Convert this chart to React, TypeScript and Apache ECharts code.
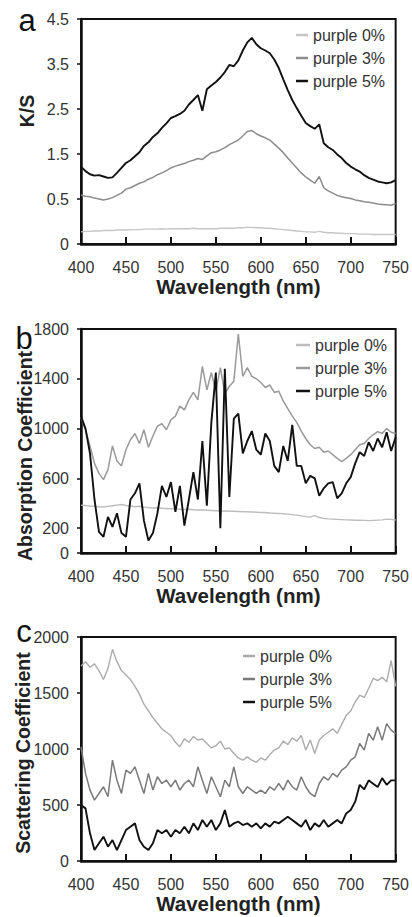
import React, { useEffect, useRef } from "react";
import * as echarts from "echarts";

const wavelengths = [
  400, 405, 410, 415, 420, 425, 430, 435, 440, 445,
  450, 455, 460, 465, 470, 475, 480, 485, 490, 495,
  500, 505, 510, 515, 520, 525, 530, 535, 540, 545,
  550, 555, 560, 565, 570, 575, 580, 585, 590, 595,
  600, 605, 610, 615, 620, 625, 630, 635, 640, 645,
  650, 655, 660, 665, 670, 675, 680, 685, 690, 695,
  700, 705, 710, 715, 720, 725, 730, 735, 740, 745,
  750,
];

const seriesNames = ["purple 0%", "purple 3%", "purple 5%"];

// Panel a (K/S) – values in axis units; tick labels below are the printed ones
const ksTickLabels = ["0", "0.5", "1.5", "2.5", "3.5", "4.5"];
const ks0 = [
  0.27, 0.28, 0.28, 0.29, 0.29, 0.3, 0.3, 0.3, 0.31, 0.31,
  0.31, 0.32, 0.32, 0.32, 0.33, 0.33, 0.33, 0.33, 0.34, 0.33,
  0.34, 0.34, 0.34, 0.34, 0.34, 0.35, 0.34, 0.34, 0.34, 0.34,
  0.34, 0.35, 0.35, 0.35, 0.35, 0.36, 0.36, 0.37, 0.37, 0.36,
  0.36, 0.35, 0.35, 0.34, 0.33, 0.32, 0.31, 0.3, 0.29, 0.28,
  0.27, 0.27, 0.26, 0.28, 0.26, 0.25, 0.25, 0.24, 0.24, 0.23,
  0.23, 0.23, 0.22, 0.22, 0.22, 0.21, 0.21, 0.21, 0.21, 0.21,
  0.21,
];
const ks3 = [
  1.09, 1.06, 1.05, 1.02, 1.0, 0.98, 1.0, 1.03, 1.08, 1.13,
  1.22, 1.25, 1.3, 1.35, 1.38, 1.44, 1.48, 1.54, 1.58, 1.63,
  1.69, 1.73, 1.76, 1.79, 1.83, 1.86, 1.9, 1.88, 1.96, 2.03,
  2.05, 2.09, 2.14, 2.21, 2.26, 2.31, 2.4, 2.5, 2.52, 2.45,
  2.4, 2.36, 2.31, 2.22, 2.13, 2.03, 1.91, 1.8, 1.69, 1.58,
  1.49, 1.42, 1.35, 1.5, 1.25, 1.18, 1.13, 1.08, 1.05, 1.03,
  1.01, 0.98, 0.96, 0.94, 0.93, 0.91, 0.89, 0.88, 0.87, 0.86,
  0.9,
];
const ks5 = [
  1.72, 1.62, 1.55, 1.52, 1.53, 1.5, 1.47, 1.48, 1.58, 1.69,
  1.8, 1.86, 1.95, 2.04, 2.18, 2.26, 2.38, 2.46, 2.58, 2.68,
  2.8, 2.84, 2.89, 2.96, 3.1, 3.2, 3.31, 2.96, 3.44, 3.52,
  3.6, 3.7, 3.82, 3.98, 3.95, 4.08, 4.3, 4.48, 4.58, 4.44,
  4.35, 4.3, 4.24, 4.1, 3.91, 3.66, 3.42, 3.2, 3.02, 2.85,
  2.69, 2.62, 2.56, 2.66, 2.24, 2.15, 2.09, 1.99, 1.91, 1.8,
  1.72, 1.66, 1.61, 1.53, 1.47, 1.43, 1.39, 1.37, 1.35, 1.37,
  1.42,
];

// Panel b (Absorption Coefficient)
const absTicks = [0, 200, 600, 1000, 1400, 1800];
const abs0 = [
  385, 382, 378, 376, 372, 370, 375, 380, 385, 390,
  382, 378, 372, 376, 368, 365, 362, 364, 360, 358,
  356, 355, 352, 350, 351, 348, 346, 345, 344, 342,
  340, 338, 337, 336, 335, 334, 332, 332, 330, 328,
  326, 325, 322, 320, 318, 315, 312, 308, 304, 298,
  292, 288, 300, 285, 278, 274, 272, 270, 268, 266,
  265, 263, 264, 262, 260, 262, 264, 266, 272, 270,
  265,
];
const abs3 = [
  1090, 990, 860, 720, 640, 590, 670, 860, 740, 700,
  830, 910, 960, 880, 990, 850, 940, 1020, 1040, 990,
  1070, 1100, 1180, 1150, 1230, 1290, 1230, 1500, 1310, 1450,
  1300, 1490, 1280, 1340, 1380, 1760, 1420, 1490, 1420, 1400,
  1370, 1330, 1350, 1290, 1300, 1220, 1160, 1100, 1050, 980,
  920, 870, 840, 850, 810, 820, 790, 760, 735, 760,
  790, 830, 870, 880, 920, 950, 975, 960, 1000, 970,
  960,
];
const abs5 = [
  1100, 1000, 800, 430, 170, 130, 290, 210, 320, 160,
  130, 430, 480, 560, 260, 100, 160, 320, 540, 450,
  570, 330, 540, 220, 430, 650, 430, 900, 380, 1050,
  1450, 200, 1480, 450, 1080, 1120, 800, 900, 980, 830,
  790, 960, 900, 700, 650, 860, 740, 1030, 700, 700,
  560, 620, 600, 460, 520, 560, 570, 440, 480, 560,
  610, 720, 810, 780, 890, 820, 920, 850, 970, 820,
  930,
];

// Panel c (Scattering Coefficient)
const sca0 = [
  1740, 1780, 1730, 1760, 1700, 1620, 1720, 1890, 1780, 1700,
  1660, 1620, 1560, 1490, 1400, 1340, 1280, 1230, 1180, 1150,
  1120, 1060, 1020, 1090, 1060, 1110, 1080, 1090, 1050, 1010,
  1030, 1070, 1000, 1010, 960, 920, 900, 930, 900, 880,
  920, 900, 950, 990, 1010, 1070, 1040, 1100, 1070, 1120,
  990, 1080, 960, 1080, 1120, 1150, 1180, 1140, 1220, 1300,
  1340, 1420, 1480, 1460, 1540, 1630, 1610, 1640, 1600, 1790,
  1560,
];
const sca3 = [
  1019, 782, 633, 544, 603, 663, 574, 900, 722, 603,
  811, 782, 841, 722, 603, 782, 633, 752, 692, 722,
  663, 722, 633, 692, 722, 663, 841, 722, 603, 752,
  663, 574, 722, 663, 841, 663, 603, 663, 633, 603,
  633, 603, 663, 633, 692, 633, 722, 663, 633, 752,
  663, 603, 574, 692, 752, 722, 782, 752, 811, 841,
  900, 930, 1049, 990, 1138, 1079, 1198, 1079, 1227, 1168,
  1138,
];
const sca5 = [
  499, 470, 247, 98, 158, 217, 128, 187, 98, 187,
  276, 306, 336, 187, 128, 98, 158, 276, 247, 276,
  217, 276, 247, 306, 247, 336, 276, 366, 306, 366,
  276, 336, 455, 306, 336, 351, 321, 336, 306, 336,
  291, 336, 306, 351, 336, 366, 395, 366, 336, 306,
  366, 276, 336, 306, 366, 306, 336, 366, 336, 425,
  455, 530, 680, 640, 720, 690, 660, 740, 680, 720,
  720,
];

const FONT = "'Liberation Sans', Arial, Helvetica, sans-serif";

const panels = [
  {
    letter: "a",
    yTitle: "K/S",
    data: [ks0, ks3, ks5],
    colors: ["#c6c6c6", "#8c8c8c", "#111111"],
    widths: [1.4, 1.5, 1.9],
  },
  {
    letter: "b",
    yTitle: "Absorption Coefficient",
    data: [abs0, abs3, abs5],
    colors: ["#bdbdbd", "#9a9a9a", "#111111"],
    widths: [1.4, 1.5, 1.9],
  },
  {
    letter: "c",
    yTitle: "Scattering Coefficient",
    data: [sca0, sca3, sca5],
    colors: ["#ababab", "#7a7a7a", "#111111"],
    widths: [1.4, 1.5, 1.9],
  },
];

// layout
const gridTops = [19, 329, 637];
const gridHeights = [225, 224, 224];
const yTitlePos = [
  [27, 111],
  [25, 456],
  [23, 753],
];
const letterPos = [
  [27, 20],
  [24, 338],
  [24, 631],
];
const legendPos = [
  [296, 35, 12],
  [296, 345, 14],
  [243, 656, 12],
];
const legendRowGap = 23;

export default function App() {
  const ref = useRef<HTMLDivElement>(null);

  useEffect(() => {
    if (!ref.current) return;
    const chart = echarts.init(ref.current, null, { renderer: "svg" });

    const grids = gridTops.map((top, i) => ({
      left: 81,
      right: 16,
      top,
      height: gridHeights[i],
      show: true,
      borderColor: "#111",
      borderWidth: 2,
      backgroundColor: "transparent",
    }));

    const xAxes = gridTops.map((_, i) => ({
      gridIndex: i,
      type: "value",
      min: 400,
      max: 750,
      interval: 50,
      name: "Wavelength (nm)",
      nameLocation: "middle",
      nameGap: 31,
      nameTextStyle: {
        fontSize: 20.5,
        fontWeight: "bold",
        color: "#222",
        fontFamily: FONT,
      },
      axisLine: { show: true, lineStyle: { color: "#111", width: 2.5 } },
      axisTick: { show: true, inside: true, length: 7, lineStyle: { color: "#111", width: 2 } },
      axisLabel: {
        fontSize: 16,
        color: "#333",
        margin: 15,
        fontFamily: FONT,
        formatter: (v: number) => String(v),
      },
      splitLine: { show: false },
    }));

    const yCommon = {
      type: "value",
      axisLine: { show: true, lineStyle: { color: "#111", width: 2.5 } },
      splitLine: { show: false },
    };

    const yAxes = [
      {
        ...yCommon,
        gridIndex: 0,
        min: 0,
        max: 5,
        interval: 1,
        axisTick: { show: true, length: 4, lineStyle: { color: "#111", width: 1.5 } },
        axisLabel: {
          fontSize: 16,
          color: "#333",
          margin: 12,
          fontFamily: FONT,
          formatter: (v: number) => ksTickLabels[Math.round(v)] ?? "",
        },
      },
      {
        ...yCommon,
        gridIndex: 1,
        min: 0,
        max: 1800,
        axisTick: {
          show: true,
          length: 4,
          customValues: absTicks,
          lineStyle: { color: "#111", width: 1.5 },
        },
        axisLabel: {
          fontSize: 16,
          color: "#333",
          margin: 12,
          fontFamily: FONT,
          customValues: absTicks,
          formatter: (v: number) => String(v),
        },
      },
      {
        ...yCommon,
        gridIndex: 2,
        min: 0,
        max: 2000,
        interval: 500,
        axisTick: { show: true, length: 4, lineStyle: { color: "#111", width: 1.5 } },
        axisLabel: {
          fontSize: 16,
          color: "#333",
          margin: 12,
          fontFamily: FONT,
          formatter: (v: number) => String(v),
        },
      },
    ];

    const series: any[] = [];
    panels.forEach((p, pi) => {
      p.data.forEach((vals, si) => {
        series.push({
          type: "line",
          name: seriesNames[si],
          xAxisIndex: pi,
          yAxisIndex: pi,
          showSymbol: false,
          symbol: "none",
          lineStyle: { color: p.colors[si], width: p.widths[si] },
          itemStyle: { color: p.colors[si] },
          data: wavelengths.map((w, k) => [w, vals[k]]),
          z: 2 + si,
        });
      });
    });

    const graphics: any[] = [];
    panels.forEach((p, pi) => {
      graphics.push({
        type: "text",
        x: letterPos[pi][0],
        y: letterPos[pi][1],
        style: {
          text: p.letter,
          fontSize: 31,
          fontFamily: FONT,
          fill: "#111",
          textAlign: "center",
          textVerticalAlign: "middle",
        },
      });
      graphics.push({
        type: "text",
        x: yTitlePos[pi][0],
        y: yTitlePos[pi][1],
        rotation: Math.PI / 2,
        style: {
          text: p.yTitle,
          fontSize: 19.5,
          fontWeight: "bold",
          fontFamily: FONT,
          fill: "#222",
          textAlign: "center",
          textVerticalAlign: "middle",
        },
      });
      const [lx, ly, lw] = legendPos[pi];
      seriesNames.forEach((nm, si) => {
        const yy = ly + si * legendRowGap;
        graphics.push({
          type: "line",
          shape: { x1: lx, y1: yy, x2: lx + lw, y2: yy },
          style: { stroke: p.colors[si], lineWidth: 2.5 },
        });
        graphics.push({
          type: "text",
          x: lx + lw + 5,
          y: yy,
          style: {
            text: nm,
            fontSize: 16,
            fontFamily: FONT,
            fill: "#333",
            textAlign: "left",
            textVerticalAlign: "middle",
          },
        });
      });
    });

    chart.setOption({
      animation: false,
      backgroundColor: "#fff",
      textStyle: { fontFamily: FONT },
      grid: grids,
      xAxis: xAxes,
      yAxis: yAxes,
      series,
      graphic: graphics,
    });

    return () => chart.dispose();
  }, []);

  return (
    <div
      ref={ref}
      style={{ position: "fixed", left: 0, top: 0, width: 412, height: 917, background: "#fff" }}
    />
  );
}
